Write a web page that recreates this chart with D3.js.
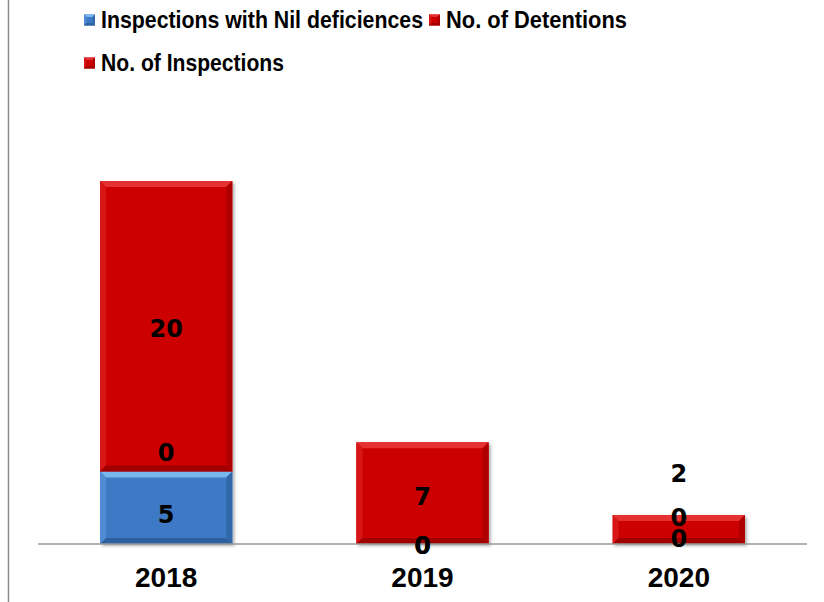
<!DOCTYPE html>
<html><head><meta charset="utf-8">
<script src="https://cdn.jsdelivr.net/npm/d3@7/dist/d3.min.js"></script>
<style>
html,body{margin:0;padding:0;background:#fff;}
svg{display:block;}
</style></head>
<body>
<svg id="chart" width="824" height="602"></svg>
<script>
const years = ["2018", "2019", "2020"];
const seriesNames = ["Inspections with Nil deficiences", "No. of Detentions", "No. of Inspections"];
const nilDeficiencies = [5, 0, 0];
const detentions = [0, 0, 0];
const inspections = [20, 7, 2];

const svg = d3.select("#chart");
const W = 824, H = 602;

// left frame line
svg.append("line").attr("x1", 8.5).attr("x2", 8.5).attr("y1", 0).attr("y2", H)
  .attr("stroke", "#8c8c8c").attr("stroke-width", 1.5);

const x = d3.scaleBand().domain(years).range([38, 807]).paddingInner(0.484).paddingOuter(0.242);
const y = d3.scaleLinear().domain([0, 25]).range([544, 181]);

const defs = svg.append("defs");
const palettes = [
  {main: "#3d79c4", top: "#78b6ee", bottom: "#2f5f9e", left: "#4f8cd4", right: "#3068aa"},
  {main: "#cc0000", top: "#e43030", bottom: "#a00000", left: "#d81414", right: "#ae0000"},
  {main: "#cc0000", top: "#e43030", bottom: "#a00000", left: "#d81414", right: "#ae0000"}
];
const f = defs.append("filter").attr("id", "shadow").attr("x", "-10%").attr("y", "-10%").attr("width", "130%").attr("height", "130%");
f.append("feDropShadow").attr("dx", 2).attr("dy", 2).attr("stdDeviation", 1.5).attr("flood-color", "#000").attr("flood-opacity", 0.3);

const stacked = years.map((yr, i) => {
  const vals = [nilDeficiencies[i], detentions[i], inspections[i]];
  let acc = 0;
  return vals.map((v, s) => { const y0 = acc; acc += v; return {year: yr, s, v, y0, y1: acc}; });
});

function bevelRect(g, x0, y0, w, h, pal, bw) {
  const b = Math.min(bw, h / 2, w / 2);
  g.append("rect").attr("x", x0).attr("y", y0).attr("width", w).attr("height", h).attr("fill", pal.main);
  g.append("path").attr("d", `M${x0},${y0}H${x0 + w}L${x0 + w - b},${y0 + b}H${x0 + b}Z`).attr("fill", pal.top);
  g.append("path").attr("d", `M${x0},${y0}L${x0 + b},${y0 + b}V${y0 + h - b}L${x0},${y0 + h}Z`).attr("fill", pal.left);
  g.append("path").attr("d", `M${x0 + w},${y0}L${x0 + w - b},${y0 + b}V${y0 + h - b}L${x0 + w},${y0 + h}Z`).attr("fill", pal.right);
  g.append("path").attr("d", `M${x0},${y0 + h}L${x0 + b},${y0 + h - b}H${x0 + w - b}L${x0 + w},${y0 + h}Z`).attr("fill", pal.bottom);
}

const barsG = svg.append("g");
stacked.forEach(segs => {
  const g = barsG.append("g").attr("filter", "url(#shadow)");
  segs.forEach(d => {
    if (d.v <= 0) return;
    const top = y(d.y1), bot = y(d.y0);
    bevelRect(g, x(d.year), top, x.bandwidth(), bot - top, palettes[d.s], 6);
  });
});

// baseline
svg.append("line").attr("x1", 38).attr("x2", 807).attr("y1", 544).attr("y2", 544)
  .attr("stroke", "#999").attr("stroke-width", 1.5);

// data labels (vertical adjustments per label, as placed in the original)
const labelDy = [[7, -19.5, 2], [1, 1, 3], [-6, -27, -56.5]];
const lblG = svg.append("g");
stacked.forEach((segs, i) => {
  segs.forEach(d => {
    lblG.append("text")
      .attr("x", x(d.year) + x.bandwidth() / 2)
      .attr("y", y((d.y0 + d.y1) / 2) + labelDy[i][d.s])
      .attr("dy", "0.36em")
      .attr("text-anchor", "middle")
      .attr("font-family", "'DejaVu Sans', Verdana, sans-serif")
      .attr("font-weight", "bold")
      .attr("font-size", 24)
      .attr("fill", "#000")
      .text(d.v);
  });
});

// x axis
const xAxis = svg.append("g").attr("transform", "translate(0,544)")
  .call(d3.axisBottom(x).tickSize(0).tickPadding(0));
xAxis.select(".domain").remove();
xAxis.selectAll("text")
  .attr("y", 43).attr("dy", 0)
  .attr("font-family", "'Liberation Sans', Arial, sans-serif")
  .attr("font-weight", "bold").attr("font-size", 28).attr("fill", "#000");

// legend
const legendItems = [
  {name: seriesNames[0], s: 0, x: 84, y: 20, len: 322},
  {name: seriesNames[1], s: 1, x: 429, y: 20, len: 181},
  {name: seriesNames[2], s: 2, x: 84, y: 63, len: 183}
];
const lg = svg.append("g");
legendItems.forEach(it => {
  const g = lg.append("g");
  bevelRect(g, it.x, it.y - 5.5, 11, 11, palettes[it.s], 2.5);
  g.append("text").attr("x", it.x + 17).attr("y", it.y + 8)
    .attr("font-family", "'Liberation Sans', Arial, sans-serif")
    .attr("font-weight", "bold").attr("font-size", 23).attr("fill", "#000")
    .attr("textLength", it.len).attr("lengthAdjust", "spacingAndGlyphs")
    .text(it.name);
});
</script>
</body></html>
